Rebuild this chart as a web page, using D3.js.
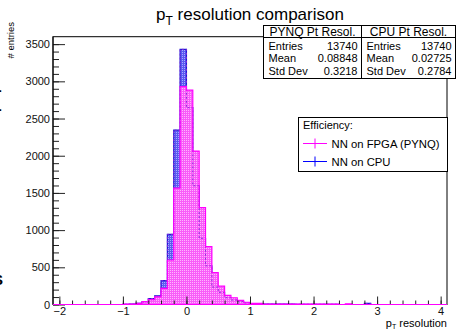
<!DOCTYPE html>
<html><head><meta charset="utf-8">
<script src="https://cdn.jsdelivr.net/npm/d3@7"></script>
<style>
body{margin:0;background:#fff}
svg{display:block;font-family:"Liberation Sans",Arial,Helvetica,sans-serif}
</style>
</head><body>
<svg id="c" width="458" height="330"></svg>
<script>
// ---------- data ----------
const binLow = [-1.0,-0.9,-0.8,-0.7,-0.6,-0.5,-0.4,-0.3,-0.2,-0.1,
                 0.0, 0.1, 0.2, 0.3, 0.4, 0.5, 0.6, 0.7, 0.8, 0.9,
                 1.0, 1.1, 1.2, 1.3, 1.4, 1.5, 1.6, 1.7, 1.8, 1.9,
                 2.0, 2.1, 2.2, 2.3, 2.4, 2.5, 2.6, 2.7, 2.8, 2.9];
const binWidth = 0.1;
const fpgaCounts = [4, 6, 16, 38, 65, 103, 217, 598, 1565, 2930,
                    2882, 2062, 1303, 780, 430, 248, 123, 91, 56, 30,
                    16, 14, 7, 6, 5, 4, 4, 4, 4, 4,
                    4, 4, 4, 4, 0, 10, 0, 0, 0, 0];
const cpuCounts  = [3, 5, 14, 35, 80, 116, 320, 943, 2344, 3430,
                    2646, 1596, 890, 520, 235, 164, 91, 60, 38, 22,
                    12, 10, 6, 5, 4, 4, 4, 3, 3, 3,
                    3, 3, 3, 3, 0, 0, 0, 0, 15, 0];
const xDomain = [-2.1, 4.1];
const yDomain = [0, 3600];
const xMajorTicks = [-2, -1, 0, 1, 2, 3, 4];
const yMajorTicks = [0, 500, 1000, 1500, 2000, 2500, 3000, 3500];
const statRowLabels = ["Entries", "Mean", "Std Dev"];
const statsPynqTitle = "PYNQ Pt Resol.";
const statsPynq = ["13740", "0.08848", "0.3218"];
const statsCpuTitle = "CPU Pt Resol.";
const statsCpu = ["13740", "0.02725", "0.2784"];
const legendHeader = "Efficiency:";
const legendLabels = ["NN on FPGA (PYNQ)", "NN on CPU"];
const legendColors = ["#ff00ff", "#0000ff"];

// ---------- layout ----------
const svg = d3.select("#c");
const L = 53, R = 447, T = 36.7, B = 304.5;
const x = d3.scaleLinear().domain(xDomain).range([L, R]);
const y = d3.scaleLinear().domain(yDomain).range([B, T]);

const defs = svg.append("defs");
function pat(id, base, dot) {
  const p = defs.append("pattern").attr("id", id).attr("width", 2).attr("height", 2)
    .attr("patternUnits", "userSpaceOnUse");
  p.append("rect").attr("width", 2).attr("height", 2).attr("fill", base);
  p.append("rect").attr("width", 1).attr("height", 1).attr("fill", dot);
}
pat("pb", "#5a5af0", "#a8a8ff");
pat("pm", "#f85cf8", "#ffb4ff");

function histPoints(counts) {
  const pts = [[xDomain[0], 0]];
  binLow.forEach((b, i) => pts.push([b, counts[i]]));
  const end = binLow[binLow.length - 1] + binWidth;
  pts.push([end, 0]);
  pts.push([xDomain[1], 0]);
  return pts;
}
const area = d3.area().curve(d3.curveStepAfter)
  .x(d => x(d[0])).y0(y(0)).y1(d => y(d[1]));
const line = d3.line().curve(d3.curveStepAfter)
  .x(d => x(d[0])).y(d => y(d[1]));

const cpuPts = histPoints(cpuCounts);
const fpgaPts = histPoints(fpgaCounts);

svg.append("path").attr("d", area(cpuPts)).attr("fill", "url(#pb)");
svg.append("path").attr("d", line(cpuPts)).attr("fill", "none")
  .attr("stroke", "#1a1ad6").attr("stroke-width", 1.2);
svg.append("path").attr("d", area(fpgaPts)).attr("fill", "url(#pm)");
svg.append("path").attr("d", line(cpuPts)).attr("fill", "none")
  .attr("stroke", "#8a2ad8").attr("stroke-width", 1).attr("stroke-dasharray", "2,2");
svg.append("path").attr("d", line(fpgaPts)).attr("fill", "none")
  .attr("stroke", "#ff00ff").attr("stroke-width", 1.2);

// ---------- frame ----------
svg.append("rect").attr("x", L).attr("y", T).attr("width", R - L).attr("height", B - T)
  .attr("fill", "none").attr("stroke", "#000").attr("stroke-width", 1);

// ---------- axes ----------
const yMinor = d3.range(0, 3600, 100);
const yAxMinor = d3.axisLeft(y).tickValues(yMinor).tickSizeInner(-6).tickSizeOuter(0).tickFormat("");
const yAxMajor = d3.axisLeft(y).tickValues(yMajorTicks).tickSizeInner(-12).tickSizeOuter(0).tickPadding(3)
  .tickFormat(d3.format("d"));
const gy1 = svg.append("g").attr("transform", `translate(${L},0)`).call(yAxMinor);
const gy2 = svg.append("g").attr("transform", `translate(${L},0)`).call(yAxMajor);

const xMinor = d3.range(-2.0, 4.1, 0.2).map(v => Math.round(v * 10) / 10);
const xAxMinor = d3.axisBottom(x).tickValues(xMinor).tickSizeInner(-4).tickSizeOuter(0).tickFormat("");
const xAxMajor = d3.axisBottom(x).tickValues(xMajorTicks).tickSizeInner(-8).tickSizeOuter(0).tickPadding(3)
  .tickFormat(d => d < 0 ? "\u2212" + Math.abs(d) : String(d));
const gx1 = svg.append("g").attr("transform", `translate(0,${B})`).call(xAxMinor);
const gx2 = svg.append("g").attr("transform", `translate(0,${B})`).call(xAxMajor);

[gy1, gy2, gx1, gx2].forEach(g => {
  g.select(".domain").remove();
  g.selectAll(".tick line").attr("stroke", "#222");
  g.selectAll("text").attr("font-size", 11).attr("fill", "#111")
    .attr("font-family", '"Liberation Sans",Arial,sans-serif');
});
// frame lines over ticks
svg.append("line").attr("x1", L).attr("x2", L).attr("y1", T).attr("y2", B).attr("stroke", "#000");
svg.append("line").attr("x1", L).attr("x2", R).attr("y1", B).attr("y2", B).attr("stroke", "#ff00ff").attr("stroke-width", 1.2);

// ---------- titles ----------
const title = svg.append("text").attr("x", 250).attr("y", 20).attr("text-anchor", "middle")
  .attr("font-size", 17).attr("fill", "#000");
title.append("tspan").text("p");
title.append("tspan").attr("dy", 5).attr("font-size", 12).text("T");
title.append("tspan").attr("dy", -5).text(" resolution comparison");

const xt = svg.append("text").attr("x", R).attr("y", 327).attr("text-anchor", "end")
  .attr("font-size", 11).attr("fill", "#000");
xt.append("tspan").text("p");
xt.append("tspan").attr("dy", 2).attr("font-size", 7).text("T");
xt.append("tspan").attr("dy", -2).text(" resolution");

svg.append("text").attr("transform", "translate(14,22) rotate(-90)")
  .attr("text-anchor", "end").attr("font-size", 9.5).attr("fill", "#000").text("# entries");

// cut-off fragments at left edge
svg.append("text").attr("x", -3).attr("y", 95).attr("font-size", 14).attr("font-weight", "bold").text("-");
svg.append("text").attr("x", -3).attr("y", 114).attr("font-size", 14).attr("font-weight", "bold").text("-");
svg.append("text").attr("x", -7).attr("y", 285).attr("font-size", 15).attr("font-weight", "bold").text("S");

// ---------- stats boxes ----------
function statBox(x0, x1, ttl, vals) {
  const g = svg.append("g");
  g.append("rect").attr("x", x0).attr("y", 25.5).attr("width", x1 - x0).attr("height", 53)
    .attr("fill", "#fff").attr("stroke", "#000");
  g.append("line").attr("x1", x0).attr("x2", x1).attr("y1", 37.5).attr("y2", 37.5).attr("stroke", "#000");
  g.append("text").attr("x", (x0 + x1) / 2).attr("y", 35.5).attr("text-anchor", "middle")
    .attr("font-size", 12).text(ttl);
  statRowLabels.forEach((lab, i) => {
    const yy = 49.5 + i * 12.8;
    g.append("text").attr("x", x0 + 5).attr("y", yy).attr("font-size", 11).text(lab);
    g.append("text").attr("x", x1 - 4).attr("y", yy).attr("font-size", 11).attr("text-anchor", "end").text(vals[i]);
  });
}
statBox(263.5, 361.5, statsPynqTitle, statsPynq);
statBox(361.5, 455.5, statsCpuTitle, statsCpu);

// ---------- legend ----------
const lg = svg.append("g");
lg.append("rect").attr("x", 298.5).attr("y", 117.5).attr("width", 149).attr("height", 54)
  .attr("fill", "#fff").attr("stroke", "#000");
lg.append("text").attr("x", 303).attr("y", 129).attr("font-size", 11).text(legendHeader);
legendLabels.forEach((lab, i) => {
  const cy = 143.5 + i * 18;
  lg.append("line").attr("x1", 303).attr("x2", 327).attr("y1", cy).attr("y2", cy).attr("stroke", legendColors[i]);
  lg.append("line").attr("x1", 315).attr("x2", 315).attr("y1", cy - 5).attr("y2", cy + 5).attr("stroke", legendColors[i]);
  lg.append("text").attr("x", 331.5).attr("y", cy + 4).attr("font-size", 11.3).text(lab);
});
</script>
</body></html>
